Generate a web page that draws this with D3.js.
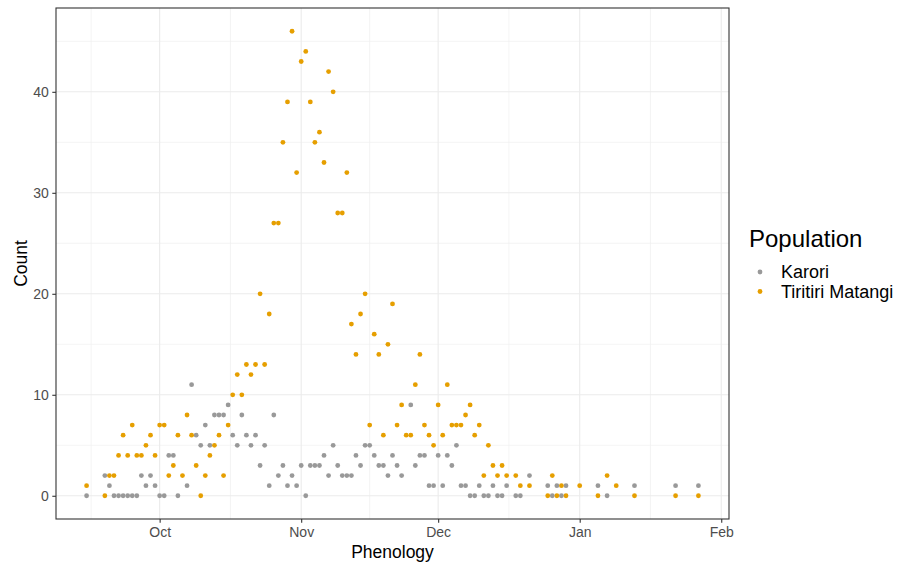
<!DOCTYPE html>
<html>
<head>
<meta charset="utf-8">
<script src="https://cdn.jsdelivr.net/npm/d3@7"></script>
<style>
    body { margin: 0; background: #fff; }
    svg { font-family: "Liberation Sans", Arial, sans-serif; }
</style>
</head>
<body>
<div id="chart"></div>
<script>
// Karori counts per day
var karoriDates = ["2019-09-15", "2019-09-19", "2019-09-20", "2019-09-21", "2019-09-22", "2019-09-23", "2019-09-24", "2019-09-25",
    "2019-09-26", "2019-09-27", "2019-09-28", "2019-09-29", "2019-09-30", "2019-10-01", "2019-10-02", "2019-10-03", "2019-10-04",
    "2019-10-05", "2019-10-07", "2019-10-08", "2019-10-09", "2019-10-10", "2019-10-11", "2019-10-12", "2019-10-13", "2019-10-14",
    "2019-10-15", "2019-10-16", "2019-10-17", "2019-10-18", "2019-10-19", "2019-10-20", "2019-10-21", "2019-10-22", "2019-10-23",
    "2019-10-24", "2019-10-25", "2019-10-26", "2019-10-27", "2019-10-28", "2019-10-29", "2019-10-30", "2019-10-31", "2019-11-01",
    "2019-11-02", "2019-11-03", "2019-11-04", "2019-11-05", "2019-11-06", "2019-11-07", "2019-11-08", "2019-11-09", "2019-11-10",
    "2019-11-11", "2019-11-12", "2019-11-13", "2019-11-14", "2019-11-15", "2019-11-16", "2019-11-17", "2019-11-18", "2019-11-19",
    "2019-11-20", "2019-11-21", "2019-11-22", "2019-11-23", "2019-11-25", "2019-11-26", "2019-11-27", "2019-11-28", "2019-11-29",
    "2019-11-30", "2019-12-01", "2019-12-02", "2019-12-03", "2019-12-04", "2019-12-05", "2019-12-06", "2019-12-07", "2019-12-08",
    "2019-12-09", "2019-12-10", "2019-12-11", "2019-12-12", "2019-12-13", "2019-12-14", "2019-12-15", "2019-12-16", "2019-12-18",
    "2019-12-19", "2019-12-21", "2019-12-25", "2019-12-26", "2019-12-27", "2019-12-28", "2019-12-29", "2020-01-05", "2020-01-07",
    "2020-01-13", "2020-01-22", "2020-01-27"];
var karoriCounts = [0, 2, 1, 0, 0, 0, 0, 0,
    0, 2, 1, 2, 1, 0, 0, 4, 4,
    0, 1, 11, 6, 5, 7, 5, 8, 8,
    8, 9, 6, 5, 8, 6, 5, 6, 3,
    5, 1, 8, 2, 3, 1, 2, 1, 3,
    0, 3, 3, 3, 4, 2, 5, 3, 2,
    2, 2, 4, 3, 5, 5, 4, 3, 3,
    2, 4, 3, 2, 9, 3, 4, 4, 1,
    1, 4, 1, 4, 3, 5, 1, 1, 0,
    0, 1, 0, 0, 1, 0, 0, 1, 0,
    0, 2, 1, 0, 1, 0, 1, 1, 0,
    1, 1, 1];

// Tiritiri Matangi counts per day
var tiritiriDates = ["2019-09-15", "2019-09-19", "2019-09-20", "2019-09-21", "2019-09-22", "2019-09-23", "2019-09-24", "2019-09-25",
    "2019-09-26", "2019-09-27", "2019-09-28", "2019-09-29", "2019-09-30", "2019-10-01", "2019-10-02", "2019-10-03", "2019-10-04",
    "2019-10-05", "2019-10-06", "2019-10-07", "2019-10-08", "2019-10-09", "2019-10-10", "2019-10-11", "2019-10-12", "2019-10-13",
    "2019-10-14", "2019-10-15", "2019-10-16", "2019-10-17", "2019-10-18", "2019-10-19", "2019-10-20", "2019-10-21", "2019-10-22",
    "2019-10-23", "2019-10-24", "2019-10-25", "2019-10-26", "2019-10-27", "2019-10-28", "2019-10-29", "2019-10-30", "2019-10-31",
    "2019-11-01", "2019-11-02", "2019-11-03", "2019-11-04", "2019-11-05", "2019-11-06", "2019-11-07", "2019-11-08", "2019-11-09",
    "2019-11-10", "2019-11-11", "2019-11-12", "2019-11-13", "2019-11-14", "2019-11-15", "2019-11-16", "2019-11-17", "2019-11-18",
    "2019-11-19", "2019-11-20", "2019-11-21", "2019-11-22", "2019-11-23", "2019-11-24", "2019-11-25", "2019-11-26", "2019-11-27",
    "2019-11-28", "2019-11-29", "2019-11-30", "2019-12-01", "2019-12-02", "2019-12-03", "2019-12-04", "2019-12-05", "2019-12-06",
    "2019-12-07", "2019-12-08", "2019-12-09", "2019-12-10", "2019-12-11", "2019-12-12", "2019-12-13", "2019-12-14", "2019-12-15",
    "2019-12-16", "2019-12-18", "2019-12-19", "2019-12-21", "2019-12-25", "2019-12-26", "2019-12-27", "2019-12-28", "2019-12-29",
    "2020-01-01", "2020-01-05", "2020-01-07", "2020-01-09", "2020-01-13", "2020-01-22", "2020-01-27"];
var tiritiriCounts = [1, 0, 2, 2, 4, 6, 4, 7,
    4, 4, 5, 6, 4, 7, 7, 2, 3,
    6, 2, 8, 6, 3, 0, 2, 4, 5,
    6, 2, 7, 10, 12, 10, 13, 12, 13,
    20, 13, 18, 27, 27, 35, 39, 46, 32,
    43, 44, 39, 35, 36, 33, 42, 40, 28,
    28, 32, 17, 14, 18, 20, 7, 16, 14,
    6, 15, 19, 7, 9, 6, 6, 11, 14,
    7, 6, 5, 9, 6, 11, 7, 7, 7,
    8, 9, 6, 7, 2, 5, 3, 2, 3,
    2, 2, 1, 1, 0, 2, 0, 1, 0,
    1, 0, 2, 1, 0, 0, 0];

var populations = ["Karori", "Tiritiri Matangi"];
var popColors = ["#999999", "#E69F00"];
var yTicks = [0, 10, 20, 30, 40];
var yMinor = [5, 15, 25, 35, 45];

var parse = d3.utcParse("%Y-%m-%d");

function toRows(dates, counts, pop) {
    return dates.map(function (d, i) {
        return {date: parse(d), count: counts[i], pop: pop};
    });
}

var rows = toRows(karoriDates, karoriCounts, populations[0])
        .concat(toRows(tiritiriDates, tiritiriCounts, populations[1]));

var width = 900, height = 567;
var panel = {left: 56, right: 729, top: 8, bottom: 519};

var svg = d3.select("#chart").append("svg")
        .attr("width", width)
        .attr("height", height);

// ggplot style 5% expansion
var dExt = d3.extent(rows, function (d) { return +d.date; });
var dPad = (dExt[1] - dExt[0]) * 0.05;
var x = d3.scaleUtc()
        .domain([new Date(dExt[0] - dPad), new Date(dExt[1] + dPad)])
        .range([panel.left, panel.right]);

var cMax = d3.max(rows, function (d) { return d.count; });
var cPad = cMax * 0.05;
var y = d3.scaleLinear()
        .domain([-cPad, cMax + cPad])
        .range([panel.bottom, panel.top]);

var color = d3.scaleOrdinal(populations, popColors);

// month breaks and the midpoints between them
var months = d3.utcMonth.range(d3.utcMonth.floor(x.domain()[0]), d3.utcMonth.offset(x.domain()[1], 2));
var xMajor = months.filter(function (d) { return d >= x.domain()[0] && d <= x.domain()[1]; });
var xMinor = [];
for (var i = 0; i < months.length - 1; i++) {
    var mid = new Date((+months[i] + +months[i + 1]) / 2);
    if (mid >= x.domain()[0] && mid <= x.domain()[1]) xMinor.push(mid);
}

var grid = svg.append("g");

grid.selectAll(".xminor").data(xMinor).enter().append("line")
        .attr("x1", function (d) { return x(d); })
        .attr("x2", function (d) { return x(d); })
        .attr("y1", panel.top).attr("y2", panel.bottom)
        .attr("stroke", "#EFEFEF").attr("stroke-width", 0.7);
grid.selectAll(".yminor").data(yMinor).enter().append("line")
        .attr("x1", panel.left).attr("x2", panel.right)
        .attr("y1", function (d) { return y(d); })
        .attr("y2", function (d) { return y(d); })
        .attr("stroke", "#EFEFEF").attr("stroke-width", 0.7);
grid.selectAll(".xmajor").data(xMajor).enter().append("line")
        .attr("x1", function (d) { return x(d); })
        .attr("x2", function (d) { return x(d); })
        .attr("y1", panel.top).attr("y2", panel.bottom)
        .attr("stroke", "#EBEBEB").attr("stroke-width", 1.1);
grid.selectAll(".ymajor").data(yTicks).enter().append("line")
        .attr("x1", panel.left).attr("x2", panel.right)
        .attr("y1", function (d) { return y(d); })
        .attr("y2", function (d) { return y(d); })
        .attr("stroke", "#EBEBEB").attr("stroke-width", 1.1);

// points
svg.append("g").selectAll("circle")
        .data(rows)
        .enter().append("circle")
        .attr("cx", function (d) { return x(d.date); })
        .attr("cy", function (d) { return y(d.count); })
        .attr("r", 2.4)
        .attr("fill", function (d) { return color(d.pop); });

// panel border
svg.append("rect")
        .attr("x", panel.left).attr("y", panel.top)
        .attr("width", panel.right - panel.left)
        .attr("height", panel.bottom - panel.top)
        .attr("fill", "none")
        .attr("stroke", "#333333")
        .attr("stroke-width", 1.1);

// axes
var xAxis = svg.append("g")
        .attr("transform", "translate(0," + panel.bottom + ")")
        .call(d3.axisBottom(x).tickValues(xMajor).tickFormat(d3.utcFormat("%b")).tickSize(3.7).tickPadding(4.5));
var yAxis = svg.append("g")
        .attr("transform", "translate(" + panel.left + ",0)")
        .call(d3.axisLeft(y).tickValues(yTicks).tickSize(3.7).tickPadding(3.5));

[xAxis, yAxis].forEach(function (a) {
    a.select(".domain").remove();
    a.selectAll(".tick line").attr("stroke", "#333333").attr("stroke-width", 1.1);
    a.selectAll(".tick text")
            .attr("fill", "#4D4D4D")
            .style("font-size", "14px")
            .style("font-family", "'Liberation Sans', Arial, sans-serif");
});

// axis titles
svg.append("text")
        .attr("x", (panel.left + panel.right) / 2)
        .attr("y", 558)
        .attr("text-anchor", "middle")
        .style("font-size", "17.5px")
        .attr("fill", "#000")
        .text("Phenology");

svg.append("text")
        .attr("transform", "translate(27," + ((panel.top + panel.bottom) / 2) + ") rotate(-90)")
        .attr("text-anchor", "middle")
        .style("font-size", "17.5px")
        .attr("fill", "#000")
        .text("Count");

// legend
var legend = svg.append("g").attr("transform", "translate(749,0)");
legend.append("text")
        .attr("x", 0)
        .attr("y", 247)
        .style("font-size", "24px")
        .attr("fill", "#000")
        .text("Population");

var item = legend.selectAll(".item")
        .data(populations)
        .enter().append("g")
        .attr("transform", function (d, i) { return "translate(0," + (272 + i * 19.5) + ")"; });
item.append("circle")
        .attr("cx", 11)
        .attr("cy", 0)
        .attr("r", 2.4)
        .attr("fill", function (d) { return color(d); });
item.append("text")
        .attr("x", 32)
        .attr("y", 0)
        .attr("dy", "0.35em")
        .style("font-size", "18px")
        .attr("fill", "#000")
        .text(function (d) { return d; });
</script>
</body>
</html>
